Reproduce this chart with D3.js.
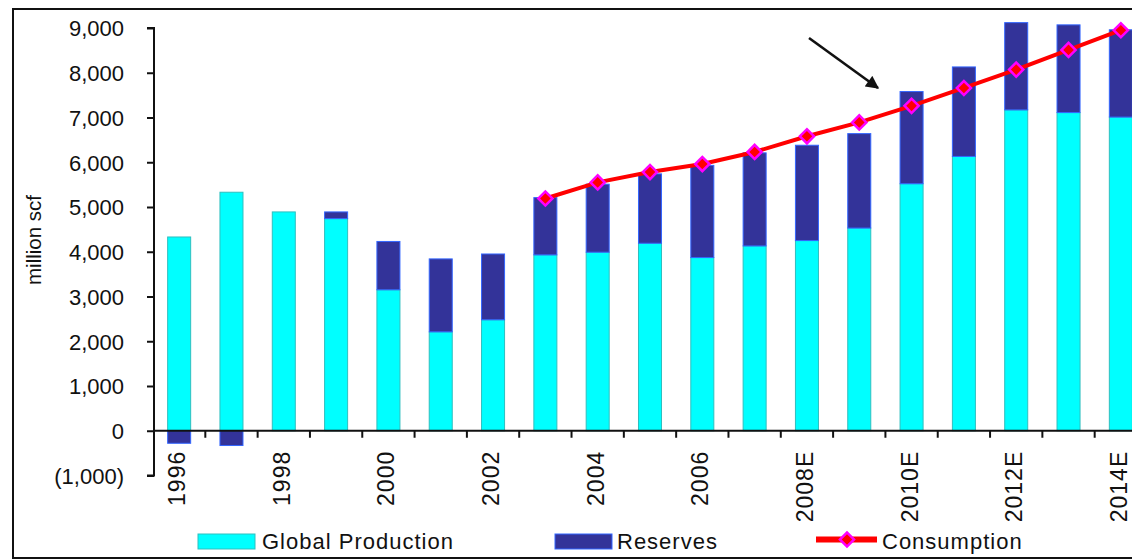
<!DOCTYPE html>
<html>
<head>
<meta charset="utf-8">
<script src="https://cdn.jsdelivr.net/npm/d3@7"></script>
<style>
  html, body { margin: 0; padding: 0; background: #fff; }
  svg { display: block; }
  text { font-family: "Liberation Sans", Arial, sans-serif; fill: #111; }
</style>
</head>
<body>
<svg id="chart" width="1132" height="560"></svg>
<script>
// ---- data ----
const categories = ["1996","1997","1998","1999","2000","2001","2002","2003","2004","2005","2006","2007",
                    "2008E","2009E","2010E","2011E","2012E","2013E","2014E"];
const shownLabels = ["1996","1998","2000","2002","2004","2006","2008E","2010E","2012E","2014E"];
const globalProduction = [4330, 5330, 4890, 4740, 3150, 2210, 2480, 3930, 3990, 4190, 3870, 4130, 4250, 4530, 5520, 6130, 7170, 7110, 7010];
const reserves = [-280, -330, 0, 150, 1080, 1630, 1470, 1280, 1520, 1550, 2060, 2080, 2130, 2110, 2060, 2000, 1950, 1960, 1950];
const consumption = [null, null, null, null, null, null, null, 5190, 5550, 5780, 5960, 6230, 6580, 6890, 7260, 7660, 8070, 8510, 8950];
const yTickValues = [-1000, 0, 1000, 2000, 3000, 4000, 5000, 6000, 7000, 8000, 9000];
const yTickLabels = ["(1,000)", "0", "1,000", "2,000", "3,000", "4,000", "5,000", "6,000", "7,000", "8,000", "9,000"];
const seriesNames = ["Global Production", "Reserves", "Consumption"];
const yAxisTitle = "million scf";

// ---- setup ----
const svg = d3.select("#chart");
const pLeft = 154, pRight = 1147, pTop = 28, pBottom = 475.5;

const x = d3.scaleBand().domain(categories).range([pLeft - 1, pRight]).paddingInner(0.56).paddingOuter(0.28);
const y = d3.scaleLinear().domain([-1000, 9000]).range([pBottom, pTop]);

// outer frame
svg.append("rect").attr("x", 13).attr("y", 9).attr("width", 1140).attr("height", 549)
  .attr("fill", "none").attr("stroke", "#111").attr("stroke-width", 2);

// stacked data
const table = categories.map((c, i) => ({cat: c, prod: globalProduction[i], res: reserves[i]}));
const stacked = d3.stack().keys(["prod", "res"]).offset(d3.stackOffsetDiverging)(table);
const fills = {prod: "#00FFFF", res: "#333399"};
const strokes = {prod: "#2fbfbf", res: "#3366FF"};

const bw = x.bandwidth();
svg.append("g").selectAll("g").data(stacked).join("g")
  .attr("fill", d => fills[d.key]).attr("stroke", d => strokes[d.key]).attr("stroke-width", 1)
  .selectAll("rect").data(d => d).join("rect")
  .attr("x", d => x(d.data.cat))
  .attr("width", bw)
  .attr("y", d => y(Math.max(d[0], d[1])))
  .attr("height", d => Math.abs(y(d[0]) - y(d[1])));

// y axis
const yAxis = d3.axisLeft(y).tickValues(yTickValues)
  .tickFormat((d, i) => yTickLabels[i]).tickSize(7).tickPadding(23);
const gy = svg.append("g").attr("transform", `translate(${pLeft},0)`).call(yAxis);
gy.select(".domain").attr("stroke", "#111").attr("stroke-width", 2).attr("d", `M-7,${pTop}H0V${pBottom}H-7`);
gy.selectAll(".tick line").attr("stroke", "#111").attr("stroke-width", 2);
gy.selectAll(".tick text").style("font-size", "22px").style("font-family", "Liberation Sans, Arial, sans-serif").attr("fill", "#111").attr("dy", "0.36em");

// x axis (at zero)
const y0 = y(0);
const gx = svg.append("g");
gx.append("line").attr("x1", pLeft).attr("x2", pRight).attr("y1", y0).attr("y2", y0)
  .attr("stroke", "#111").attr("stroke-width", 2);
const boundaries = categories.map(c => x(c) + bw + x.step() * x.paddingInner() / 2);
gx.selectAll("line.tk").data(boundaries).join("line").attr("class", "tk")
  .attr("x1", d => d).attr("x2", d => d)
  .attr("y1", y0).attr("y2", y0 + 7).attr("stroke", "#111").attr("stroke-width", 2);

gx.selectAll("text.xl").data(categories.filter(c => shownLabels.includes(c))).join("text").attr("class", "xl")
  .attr("transform", d => `translate(${x(d) + bw / 2 + 6},${y0 + 20}) rotate(-90)`)
  .attr("text-anchor", "end")
  .style("font-size", "23px")
  .style("letter-spacing", "1px")
  .text(d => d);

// y title
svg.append("text").attr("transform", "translate(41,240) rotate(-90)")
  .attr("text-anchor", "middle").style("font-size", "20.5px").text(yAxisTitle);

// consumption line
const lineData = categories.map((c, i) => ({cat: c, v: consumption[i]}));
const line = d3.line().defined(d => d.v != null)
  .x(d => x(d.cat) + bw / 2).y(d => y(d.v));
svg.append("path").datum(lineData).attr("d", line)
  .attr("fill", "none").attr("stroke", "#FF0000").attr("stroke-width", 4);

const diamond = d3.symbol().type(d3.symbolSquare).size(100);
svg.append("g").selectAll("path").data(lineData.filter(d => d.v != null)).join("path")
  .attr("d", diamond)
  .attr("transform", d => `translate(${x(d.cat) + bw / 2},${y(d.v)}) rotate(45)`)
  .attr("fill", "#FF0000").attr("stroke", "#FF00FF").attr("stroke-width", 2.5);

// arrow annotation
const defs = svg.append("defs");
defs.append("marker").attr("id", "ah").attr("viewBox", "0 0 10 10").attr("refX", 9).attr("refY", 5)
  .attr("markerWidth", 5.5).attr("markerHeight", 5).attr("orient", "auto")
  .append("path").attr("d", "M0,0L10,5L0,10z").attr("fill", "#111");
svg.append("line").attr("x1", 809).attr("y1", 38).attr("x2", 878).attr("y2", 88)
  .attr("stroke", "#111").attr("stroke-width", 2.6).attr("marker-end", "url(#ah)");

// legend
const lg = svg.append("g").style("font-size", "22px").style("letter-spacing", "1px");
lg.append("rect").attr("x", 198).attr("y", 534).attr("width", 57).attr("height", 15)
  .attr("fill", fills.prod).attr("stroke", strokes.prod).attr("stroke-width", 1);
lg.append("text").attr("x", 262).attr("y", 549).text(seriesNames[0]);
lg.append("rect").attr("x", 555).attr("y", 534).attr("width", 57).attr("height", 15)
  .attr("fill", fills.res).attr("stroke", strokes.res).attr("stroke-width", 1);
lg.append("text").attr("x", 617).attr("y", 549).text(seriesNames[1]);
lg.append("line").attr("x1", 816).attr("x2", 877).attr("y1", 539.5).attr("y2", 539.5)
  .attr("stroke", "#FF0000").attr("stroke-width", 6);
lg.append("path").attr("d", diamond).attr("transform", "translate(847,539.5) rotate(45)")
  .attr("fill", "#FF0000").attr("stroke", "#FF00FF").attr("stroke-width", 2.5);
lg.append("text").attr("x", 882).attr("y", 549).text(seriesNames[2]);
</script>
</body>
</html>
